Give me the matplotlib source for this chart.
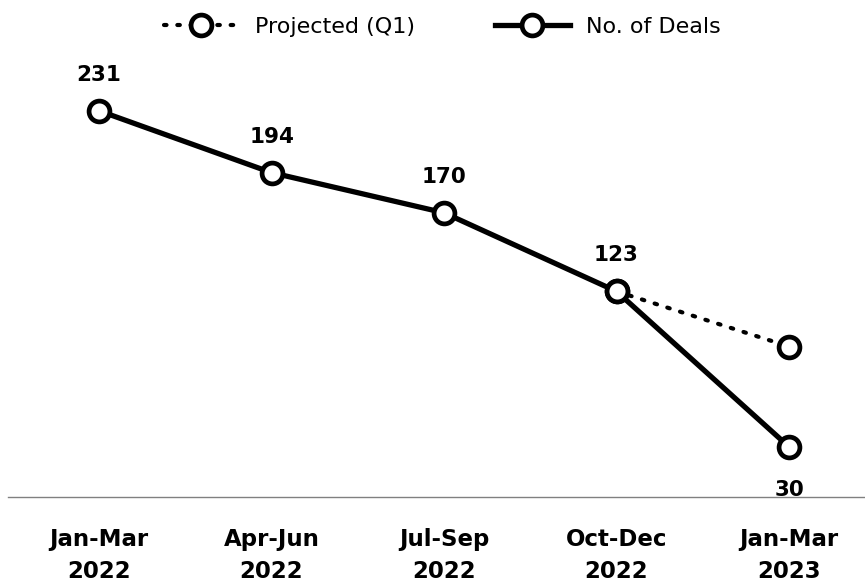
import matplotlib.pyplot as plt
import numpy as np

# Data
quarters = ['Jan-Mar\n2022', 'Apr-Jun\n2022', 'Jul-Sep\n2022', 'Oct-Dec\n2022', 'Jan-Mar\n2023']
deals = [231, 194, 170, 123, 30]
projected = [np.nan, np.nan, np.nan, 123, 90]

fig = plt.figure(figsize=(8.65, 5.86), dpi=100)
ax = fig.add_axes([8 / 865, 1 - 497 / 586, 1 - 8 / 865, (497 - 60) / 586])

x = np.arange(len(quarters))
marker_style = dict(marker='o', markersize=15, markerfacecolor='white',
                    markeredgecolor='black', markeredgewidth=3.4)

ax.plot(x, projected, color='black', linewidth=3, linestyle=(0, (0.6, 2.6)),
        dash_capstyle='round', label='Projected (Q1)', zorder=2, **marker_style)
ax.plot(x, deals, color='black', linewidth=3.8, label='No. of Deals',
        zorder=3, **marker_style)

# Value labels
for i, v in enumerate(deals):
    if i == len(deals) - 1:
        ax.annotate(str(v), (i, v), xytext=(0, -31), textcoords='offset points',
                    ha='center', va='center', fontsize=15.5, fontweight='bold')
    else:
        ax.annotate(str(v), (i, v), xytext=(0, 26), textcoords='offset points',
                    ha='center', va='center', fontsize=15.5, fontweight='bold')

ax.set_xlim(-91 / 172.5, 4 + 76 / 172.5)
ax.set_ylim(0, (497 - 60) / 1.672)
ax.set_xticks(x)
ax.set_xticklabels(quarters, fontsize=16.5, fontweight='bold', linespacing=1.5)
ax.tick_params(axis='x', length=0, pad=22)
ax.set_yticks([])
for side in ['top', 'right', 'left']:
    ax.spines[side].set_visible(False)
ax.spines['bottom'].set_color('#808080')
ax.spines['bottom'].set_linewidth(1)

ax.legend(loc='center', bbox_to_anchor=(442 / 865, 1 - 27 / 586),
          bbox_transform=fig.transFigure, ncol=2,
          frameon=False, fontsize=16, handlelength=3.4, columnspacing=3.6,
          handletextpad=0.7, borderaxespad=0)

fig.savefig('out.png', dpi=100)
